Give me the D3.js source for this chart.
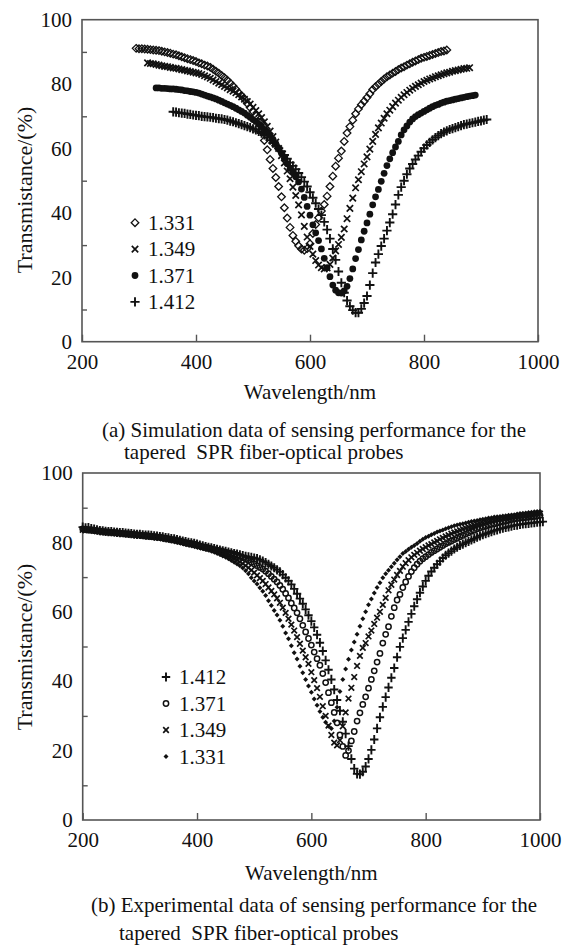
<!DOCTYPE html>
<html>
<head>
<meta charset="utf-8">
<script src="https://cdn.jsdelivr.net/npm/d3@7"></script>
<style>
  body { margin: 0; background: #fff; }
  svg text { font-family: "Liberation Serif", "Times New Roman", Times, serif; fill: #111; }
</style>
</head>
<body>
<svg id="chart" width="562" height="947"></svg>
<script>
// axis ticks shared by both panels
var xTicks = [200, 400, 600, 800, 1000];
var yTicks = [0, 20, 40, 60, 80, 100];
var yMinorTicks = [10, 30, 50, 70, 90];
var stepNm = 5;

// (a) simulation, transmittance read every 5 nm from first wavelength
var simLabels = ["1.331", "1.349", "1.371", "1.412"];
var simStart = [295, 315, 330, 360];
var sim1331 = [91.1, 91.0, 91.0, 90.9, 90.8, 90.7, 90.6, 90.5, 90.4, 90.2,
  90.0, 89.8, 89.6, 89.3, 89.1, 88.8, 88.5, 88.2, 87.9, 87.6,
  87.3, 87.0, 86.6, 86.3, 85.9, 85.6, 85.2, 84.6, 84.0, 83.4,
  82.7, 82.0, 81.2, 80.3, 79.4, 78.4, 77.3, 76.4, 75.4, 74.0,
  72.7, 71.5, 70.2, 68.3, 65.3, 62.5, 59.6, 56.6, 53.8, 51.0,
  48.2, 45.0, 41.6, 38.4, 35.5, 33.0, 31.2, 29.8, 28.8, 28.4,
  28.9, 30.4, 33.6, 36.4, 38.5, 40.6, 42.6, 45.2, 48.2, 51.4,
  54.5, 57.0, 59.2, 62.2, 64.8, 66.8, 68.8, 70.8, 72.3, 73.6,
  74.7, 75.8, 77.0, 78.3, 79.2, 80.0, 80.8, 81.6, 82.3, 82.8,
  83.4, 83.9, 84.5, 85.0, 85.4, 85.9, 86.3, 86.8, 87.2, 87.6,
  88.0, 88.3, 88.6, 88.9, 89.2, 89.5, 89.8, 90.1, 90.3, 90.6];
var sim1349 = [86.6, 86.4, 86.3, 86.1, 85.9, 85.7, 85.5, 85.4, 85.2, 85.0,
  84.9, 84.7, 84.5, 84.3, 84.1, 83.9, 83.7, 83.5, 83.3, 83.0,
  82.6, 82.2, 81.8, 81.3, 80.8, 80.3, 79.8, 79.3, 78.8, 78.3,
  77.8, 77.3, 76.7, 76.0, 75.3, 74.6, 73.8, 72.8, 71.8, 70.8,
  69.6, 68.3, 66.9, 65.4, 63.7, 62.0, 60.0, 57.8, 55.5, 53.0,
  50.6, 48.0, 45.4, 42.5, 39.4, 35.8, 32.5, 29.6, 27.2, 25.2,
  23.8, 23.0, 22.6, 22.9, 24.0, 26.0, 28.2, 30.2, 32.4, 35.0,
  38.2, 41.4, 44.6, 47.8, 50.3, 52.8, 55.2, 57.4, 59.8, 62.2,
  64.4, 66.4, 67.9, 69.4, 70.8, 71.9, 73.0, 74.1, 75.0, 75.9,
  76.7, 77.4, 78.1, 78.7, 79.3, 79.8, 80.3, 80.8, 81.2, 81.6,
  81.9, 82.3, 82.6, 82.9, 83.2, 83.5, 83.7, 84.0, 84.2, 84.4,
  84.6, 84.8, 84.9, 85.1];
var sim1371 = [78.8, 78.8, 78.7, 78.7, 78.6, 78.5, 78.5, 78.4, 78.3, 78.2,
  78.0, 77.9, 77.7, 77.6, 77.4, 77.2, 76.9, 76.6, 76.3, 76.0,
  75.7, 75.4, 75.0, 74.6, 74.2, 73.8, 73.4, 73.0, 72.5, 72.0,
  71.5, 71.0, 70.3, 69.7, 69.0, 68.4, 67.6, 66.8, 65.9, 65.0,
  64.0, 62.8, 61.5, 60.0, 58.5, 56.9, 55.3, 53.8, 52.5, 51.2,
  49.6, 47.4, 44.8, 42.0, 39.3, 36.3, 33.8, 31.4, 28.8, 25.9,
  23.0, 20.2, 17.6, 16.0, 15.2, 15.1, 15.8, 17.2, 19.6, 22.6,
  25.8, 28.6, 31.6, 34.3, 36.9, 39.6, 42.5, 45.0, 47.3, 49.8,
  52.3, 54.7, 56.8, 58.7, 60.5, 62.2, 64.2, 65.8, 67.0, 68.2,
  69.2, 69.9, 70.5, 71.0, 71.5, 72.0, 72.5, 73.0, 73.4, 73.7,
  74.1, 74.4, 74.7, 74.9, 75.1, 75.3, 75.5, 75.7, 75.9, 76.1,
  76.3, 76.4, 76.6];
var sim1412 = [71.4, 71.3, 71.1, 71.0, 70.9, 70.7, 70.6, 70.4, 70.3, 70.2,
  70.0, 69.9, 69.8, 69.7, 69.6, 69.4, 69.3, 69.2, 69.0, 68.8,
  68.5, 68.3, 68.0, 67.7, 67.4, 67.1, 66.8, 66.5, 66.1, 65.8,
  65.3, 64.8, 64.2, 63.5, 62.6, 61.7, 60.9, 60.1, 59.1, 58.0,
  56.8, 55.6, 54.6, 53.6, 52.4, 51.1, 49.7, 48.2, 46.4, 44.7,
  43.0, 41.2, 39.3, 37.2, 34.8, 32.0, 28.8, 25.4, 21.8, 18.3,
  15.2, 12.8, 11.0, 9.8, 9.0, 9.0, 10.2, 12.0, 14.2, 17.6,
  21.3, 24.6, 27.2, 29.7, 32.0, 34.5, 37.0, 39.6, 42.6, 45.6,
  48.0, 50.0, 52.0, 53.8, 55.2, 56.6, 57.8, 59.0, 60.1, 61.1,
  61.9, 62.7, 63.4, 64.0, 64.6, 65.1, 65.5, 65.9, 66.2, 66.5,
  66.8, 67.1, 67.4, 67.6, 67.8, 68.0, 68.2, 68.4, 68.6, 68.8,
  69.0];

// (b) experiment, every 5 nm from 200 to 1000 nm
var expLabels = ["1.412", "1.371", "1.349", "1.331"];
var expStart = 200;
var exp1412 = [84.4, 84.2, 84.3, 84.0, 83.8, 83.6, 83.4, 83.3, 83.2, 83.1,
  83.1, 83.0, 82.9, 82.8, 82.8, 82.7, 82.6, 82.5, 82.4, 82.3,
  82.3, 82.2, 82.1, 82.1, 82.0, 81.9, 81.8, 81.7, 81.6, 81.4,
  81.3, 81.1, 81.0, 80.8, 80.6, 80.4, 80.2, 80.0, 79.9, 79.7,
  79.5, 79.2, 79.0, 78.8, 78.6, 78.4, 78.2, 78.0, 77.8, 77.6,
  77.4, 77.2, 77.0, 76.8, 76.6, 76.4, 76.2, 76.0, 75.8, 75.7,
  75.5, 75.3, 75.0, 74.6, 74.2, 73.7, 73.2, 72.7, 72.1, 71.5,
  70.7, 69.8, 68.9, 67.9, 66.6, 65.2, 63.8, 62.3, 60.7, 59.0,
  57.3, 55.5, 53.4, 51.1, 48.7, 46.0, 43.3, 40.5, 37.6, 34.6,
  31.5, 28.3, 24.9, 21.3, 17.6, 14.8, 13.3, 13.2, 13.9, 15.4,
  17.6, 20.2, 23.2, 26.4, 29.6, 32.6, 35.4, 38.2, 41.0, 43.8,
  46.9, 49.9, 52.4, 54.8, 57.1, 59.4, 61.6, 63.6, 65.5, 67.3,
  68.9, 70.4, 71.6, 72.7, 73.7, 74.6, 75.5, 76.3, 76.9, 77.5,
  78.1, 78.6, 79.1, 79.5, 79.9, 80.3, 80.7, 81.1, 81.5, 81.9,
  82.2, 82.5, 82.8, 83.1, 83.4, 83.6, 83.9, 84.1, 84.3, 84.5,
  84.7, 84.9, 85.0, 85.2, 85.3, 85.4, 85.5, 85.6, 85.7, 85.8,
  85.9, 86.0];
var exp1371 = [83.9, 83.8, 83.7, 83.6, 83.5, 83.4, 83.3, 83.2, 83.1, 83.0,
  82.9, 82.9, 82.8, 82.7, 82.6, 82.5, 82.5, 82.4, 82.3, 82.2,
  82.1, 82.0, 82.0, 81.9, 81.8, 81.7, 81.6, 81.5, 81.4, 81.2,
  81.1, 80.9, 80.8, 80.6, 80.4, 80.2, 80.0, 79.8, 79.7, 79.5,
  79.3, 79.0, 78.8, 78.6, 78.4, 78.2, 78.0, 77.8, 77.6, 77.4,
  77.2, 77.0, 76.8, 76.6, 76.3, 76.0, 75.6, 75.2, 74.8, 74.3,
  73.8, 73.3, 72.8, 72.3, 71.7, 71.0, 70.2, 69.4, 68.6, 67.6,
  66.5, 65.3, 64.0, 62.5, 61.1, 59.7, 58.0, 56.1, 54.2, 52.3,
  50.4, 48.4, 46.5, 44.6, 42.2, 39.6, 36.7, 33.8, 31.0, 28.0,
  24.5, 21.2, 18.6, 20.0, 22.8, 25.5, 28.5, 30.9, 33.3, 35.5,
  38.0, 40.5, 43.0, 45.5, 48.0, 51.0, 53.5, 55.7, 58.7, 61.2,
  63.4, 65.0, 67.0, 68.6, 70.2, 71.6, 72.7, 73.7, 74.6, 75.3,
  75.9, 76.5, 77.1, 77.6, 78.1, 78.6, 79.1, 79.6, 80.0, 80.4,
  80.8, 81.2, 81.6, 82.0, 82.4, 82.8, 83.2, 83.5, 83.9, 84.2,
  84.5, 84.7, 85.0, 85.2, 85.4, 85.6, 85.8, 86.0, 86.2, 86.4,
  86.6, 86.8, 86.9, 87.0, 87.1, 87.2, 87.3, 87.4, 87.5, 87.6,
  87.8];
var exp1349 = [83.6, 83.5, 83.5, 83.4, 83.3, 83.2, 83.1, 83.0, 82.9, 82.9,
  82.8, 82.7, 82.6, 82.6, 82.5, 82.4, 82.3, 82.2, 82.2, 82.1,
  82.0, 81.9, 81.8, 81.7, 81.6, 81.5, 81.4, 81.3, 81.2, 81.0,
  80.9, 80.7, 80.6, 80.4, 80.2, 80.0, 79.8, 79.6, 79.4, 79.2,
  79.0, 78.8, 78.6, 78.4, 78.2, 78.0, 77.7, 77.4, 77.1, 76.8,
  76.5, 76.1, 75.7, 75.3, 74.9, 74.4, 73.9, 73.3, 72.7, 72.0,
  71.3, 70.5, 69.7, 68.9, 68.0, 67.0, 66.0, 65.0, 63.9, 62.6,
  61.2, 59.7, 58.0, 56.3, 54.6, 52.7, 50.8, 48.8, 46.9, 45.0,
  42.6, 40.3, 38.0, 35.5, 32.8, 30.0, 27.2, 24.5, 22.3, 21.5,
  23.0, 27.0, 31.0, 35.0, 38.1, 41.2, 44.4, 47.3, 49.6, 51.0,
  52.9, 54.6, 56.5, 58.3, 60.0, 62.0, 64.0, 66.2, 67.8, 69.3,
  70.6, 71.8, 73.0, 74.0, 74.9, 75.7, 76.4, 77.0, 77.6, 78.1,
  78.6, 79.1, 79.5, 80.0, 80.4, 80.9, 81.3, 81.7, 82.1, 82.5,
  82.9, 83.2, 83.5, 83.8, 84.1, 84.4, 84.7, 84.9, 85.2, 85.4,
  85.6, 85.8, 86.0, 86.2, 86.4, 86.6, 86.7, 86.9, 87.0, 87.1,
  87.3, 87.4, 87.5, 87.6, 87.7, 87.8, 87.9, 88.0, 88.1, 88.3,
  88.3];
var exp1331 = [83.4, 83.4, 83.3, 83.2, 83.1, 83.0, 82.9, 82.8, 82.8, 82.7,
  82.6, 82.5, 82.5, 82.4, 82.3, 82.2, 82.1, 82.1, 82.0, 81.9,
  81.8, 81.7, 81.6, 81.5, 81.4, 81.3, 81.2, 81.1, 81.0, 80.8,
  80.7, 80.5, 80.3, 80.1, 79.9, 79.7, 79.5, 79.3, 79.1, 78.9,
  78.7, 78.5, 78.3, 78.0, 77.8, 77.5, 77.2, 76.9, 76.5, 76.1,
  75.7, 75.3, 74.8, 74.3, 73.8, 73.3, 72.6, 71.8, 71.0, 69.8,
  68.9, 68.0, 66.9, 65.9, 64.7, 63.2, 61.8, 60.4, 59.1, 57.6,
  55.8, 53.9, 52.2, 50.2, 48.2, 46.4, 44.3, 42.4, 40.5, 38.6,
  36.8, 34.9, 33.1, 31.3, 29.6, 28.2, 27.0, 26.4, 28.5, 32.5,
  37.0, 40.5, 43.5, 46.3, 49.0, 51.3, 53.5, 55.8, 58.0, 60.0,
  62.0, 63.7, 65.4, 67.0, 68.4, 69.8, 71.0, 72.0, 73.0, 74.0,
  75.0, 75.9, 76.8, 77.4, 78.0, 78.6, 79.1, 79.7, 80.3, 80.9,
  81.4, 81.8, 82.2, 82.6, 83.0, 83.3, 83.6, 83.9, 84.2, 84.5,
  84.8, 85.0, 85.2, 85.4, 85.6, 85.8, 86.0, 86.2, 86.3, 86.5,
  86.7, 86.8, 87.0, 87.1, 87.3, 87.4, 87.5, 87.6, 87.7, 87.8,
  87.9, 88.0, 88.2, 88.3, 88.4, 88.5, 88.6, 88.7, 88.8, 88.9,
  89.0];

var serif = "'Liberation Serif', 'Times New Roman', Times, serif";
var svg = d3.select("#chart").attr("font-family", serif);
svg.append("rect").attr("width", 562).attr("height", 947).attr("fill", "#fff");

// marker shapes, drawn as paths around 0,0
var shapes = {
    diamondOpen: { d: "M0,-3.8L3.8,0L0,3.8L-3.8,0Z", fill: "none", stroke: 1.3 },
    crossBig:    { d: "M-3.2,-3.2L3.2,3.2M-3.2,3.2L3.2,-3.2", fill: "none", stroke: 1.7 },
    dot:         { d: d3.symbol(d3.symbolCircle, 36)(), fill: "#111", stroke: 0 },
    plusBig:     { d: "M-4.6,0H4.6M0,-4.6V4.6", fill: "none", stroke: 1.9 },
    plus:        { d: "M-4.2,0H4.2M0,-4.6V4.6", fill: "none", stroke: 1.9 },
    ring:        { d: d3.symbol(d3.symbolCircle, 22)(), fill: "none", stroke: 1.5 },
    cross:       { d: "M-2.8,-2.8L2.8,2.8M-2.8,2.8L2.8,-2.8", fill: "none", stroke: 1.7 },
    diamondDot:  { d: "M0,-2.5L2.5,0L0,2.5L-2.5,0Z", fill: "#111", stroke: 0 }
};

function drawMarks(g, pts, x, y, shape) {
    var s = shapes[shape];
    g.selectAll(null)
        .data(pts)
        .enter().append("path")
        .attr("d", s.d)
        .attr("transform", function (d) { return "translate(" + x(d[0]) + "," + y(d[1]) + ")"; })
        .attr("fill", s.fill)
        .attr("stroke", "#111")
        .attr("stroke-width", s.stroke);
}

function toPoints(start, values) {
    return values.map(function (v, i) { return [start + i * stepNm, v]; });
}

function addText(g, x, y, str, size) {
    return g.append("text")
        .attr("x", x).attr("y", y)
        .attr("font-family", serif)
        .style("font-size", size + "px")
        .text(str);
}

function drawPanel(p) {
    var x = d3.scaleLinear().domain([200, 1000]).range([p.left, p.right]);
    var y = d3.scaleLinear().domain([0, 100]).range([p.bottom, p.top]);
    var g = svg.append("g");

    // x axis: labels below, major ticks pointing inwards
    var gx = g.append("g")
        .attr("transform", "translate(0," + p.bottom + ")")
        .call(d3.axisBottom(x).tickValues(xTicks).tickSizeInner(-7).tickSizeOuter(0).tickFormat(d3.format("d")));
    gx.attr("font-family", serif);
    gx.selectAll("text").attr("y", 27).attr("dy", 0).style("font-size", "21px");

    // y axis labels, then short minor ticks inside
    var gy = g.append("g")
        .attr("transform", "translate(" + p.left + ",0)")
        .call(d3.axisLeft(y).tickValues(yTicks).tickSize(0).tickPadding(10));
    gy.attr("font-family", serif);
    gy.selectAll("text").style("font-size", "21px");
    g.append("g")
        .attr("transform", "translate(" + p.left + ",0)")
        .call(d3.axisLeft(y).tickValues(yMinorTicks).tickSizeInner(-5).tickSizeOuter(0).tickFormat(""));
    g.selectAll(".domain").remove();
    g.selectAll(".tick line").attr("stroke", "#555").attr("stroke-width", 1.4);

    // frame around the plot
    g.append("rect")
        .attr("x", p.left).attr("y", p.top)
        .attr("width", p.right - p.left).attr("height", p.bottom - p.top)
        .attr("fill", "none").attr("stroke", "#555").attr("stroke-width", 1.6);

    addText(g, (p.left + p.right) / 2, p.xTitleY, "Wavelength/nm", 21)
        .attr("text-anchor", "middle");
    addText(g, 0, 0, "Transmistance/(%)", 22)
        .attr("transform", "translate(" + p.yTitleX + "," + p.yTitleY + ") rotate(-90)")
        .attr("text-anchor", "middle").attr("dy", "0.35em");

    p.series.forEach(function (s) {
        drawMarks(g.append("g"), toPoints(s.start, s.values), x, y, s.shape);
    });

    // legend
    p.legend.forEach(function (item, i) {
        var ly = p.legendY + i * p.legendGap;
        drawMarks(g.append("g"), [[0, 0]], function () { return p.legendX; }, function () { return ly; }, item.shape);
        addText(g, p.legendX + 13, ly, item.label, 21).attr("dy", "0.35em");
    });

    // caption, two lines, second one indented
    addText(g, 314, p.captionY, p.caption[0], 21).attr("text-anchor", "middle");
    addText(g, p.caption2X, p.captionY + p.captionGap, p.caption[1], 21)
        .style("white-space", "pre");
}

drawPanel({
    left: 82, right: 538, top: 19.7, bottom: 341.7,
    xTitleY: 399, yTitleX: 24, yTitleY: 190,
    series: [
        { start: simStart[3], values: sim1412, shape: "plusBig" },
        { start: simStart[2], values: sim1371, shape: "dot" },
        { start: simStart[1], values: sim1349, shape: "crossBig" },
        { start: simStart[0], values: sim1331, shape: "diamondOpen" }
    ],
    legend: [
        { label: simLabels[0], shape: "diamondOpen" },
        { label: simLabels[1], shape: "crossBig" },
        { label: simLabels[2], shape: "dot" },
        { label: simLabels[3], shape: "plusBig" }
    ],
    legendX: 135, legendY: 222.7, legendGap: 26.4,
    caption: ["(a) Simulation data of sensing performance for the", "tapered  SPR fiber-optical probes"],
    captionY: 437, captionGap: 22, caption2X: 124
});

drawPanel({
    left: 82.7, right: 540, top: 473, bottom: 820,
    xTitleY: 880, yTitleX: 24, yTitleY: 647,
    series: [
        { start: expStart, values: exp1331, shape: "diamondDot" },
        { start: expStart, values: exp1349, shape: "cross" },
        { start: expStart, values: exp1371, shape: "ring" },
        { start: expStart, values: exp1412, shape: "plus" }
    ],
    legend: [
        { label: expLabels[0], shape: "plus" },
        { label: expLabels[1], shape: "ring" },
        { label: expLabels[2], shape: "cross" },
        { label: expLabels[3], shape: "diamondDot" }
    ],
    legendX: 166, legendY: 677, legendGap: 26.5,
    caption: ["(b) Experimental data of sensing performance for the", "tapered  SPR fiber-optical probes"],
    captionY: 912, captionGap: 28, caption2X: 119
});
</script>
</body>
</html>
